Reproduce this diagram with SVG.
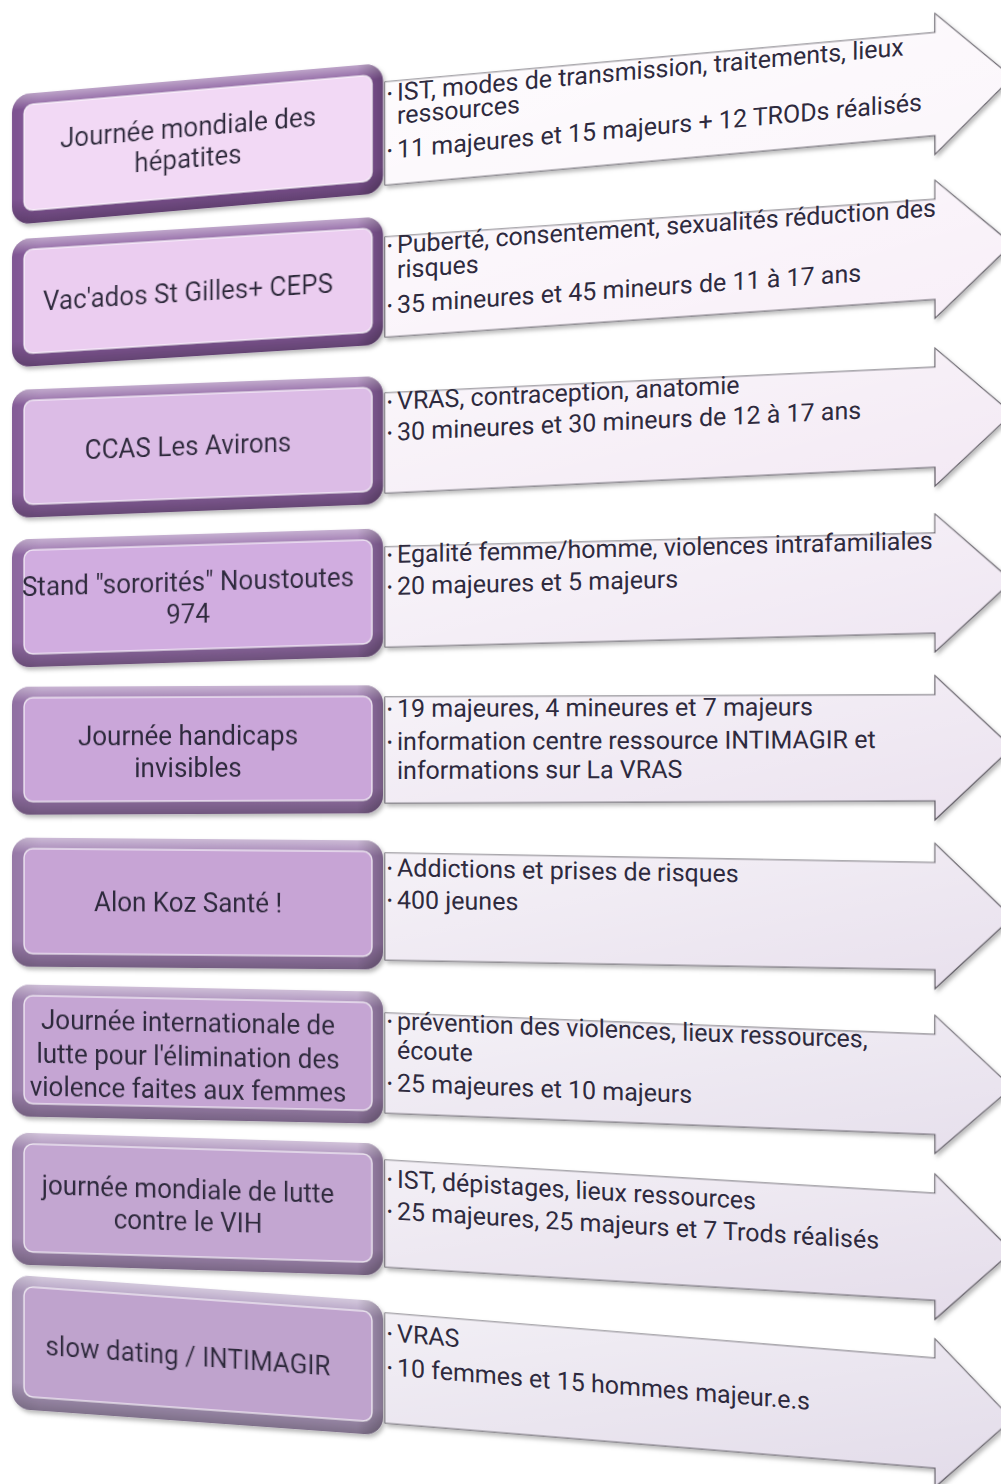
<svg xmlns="http://www.w3.org/2000/svg" width="1001" height="1484" viewBox="0 0 1001 1484">
<defs>
<linearGradient id="bevelV" x1="0" y1="0" x2="0" y2="1">
<stop offset="0" stop-color="#fff" stop-opacity="0.45"/>
<stop offset="0.12" stop-color="#fff" stop-opacity="0"/>
<stop offset="0.8" stop-color="#000" stop-opacity="0"/>
<stop offset="1" stop-color="#000" stop-opacity="0.28"/>
</linearGradient>
<linearGradient id="bevelH" x1="0" y1="0" x2="1" y2="0">
<stop offset="0" stop-color="#000" stop-opacity="0.08"/>
<stop offset="0.08" stop-color="#000" stop-opacity="0"/>
<stop offset="0.93" stop-color="#000" stop-opacity="0"/>
<stop offset="1" stop-color="#000" stop-opacity="0.25"/>
</linearGradient>
<linearGradient id="faceSheen" x1="0" y1="0" x2="1" y2="1">
<stop offset="0" stop-color="#fff" stop-opacity="0.22"/>
<stop offset="1" stop-color="#fff" stop-opacity="0"/>
</linearGradient>
<linearGradient id="arrowSheen" x1="0" y1="0" x2="1" y2="1">
<stop offset="0" stop-color="#fff" stop-opacity="0.6"/>
<stop offset="1" stop-color="#fff" stop-opacity="0"/>
</linearGradient>
<filter id="shadow" x="-5%" y="-10%" width="115%" height="130%">
<feDropShadow dx="2" dy="3" stdDeviation="2" flood-color="#000" flood-opacity="0.28"/>
</filter>
</defs>
<style>
.lbl{font-family:Roboto,"Liberation Sans",sans-serif;font-size:26px;fill:#2e2a3e;text-anchor:middle}
.txt{font-family:Roboto,"Liberation Sans",sans-serif;font-size:25px;fill:#2e2a3e}
.bul{font-family:Roboto,"Liberation Sans",sans-serif;font-size:16px;fill:#2e2a3e}
.arr{stroke:#5b5760;stroke-width:1.2;stroke-linejoin:miter}
.hl{fill:none;stroke:#fff;stroke-opacity:0.7;stroke-width:1.5}
</style>

<!-- Row 1 -->
<g id="box1" transform="matrix(1,-0.086,0,1,0,16.94)" filter="url(#shadow)">
<rect x="12" y="79" width="371" height="130" rx="18" fill="#87599c"/>
<rect x="12" y="79" width="371" height="130" rx="18" fill="url(#bevelV)"/>
<rect x="12" y="79" width="371" height="130" rx="18" fill="url(#bevelH)"/>
<rect x="24" y="90" width="348" height="106" rx="9" fill="#f2d9f5"/>
<rect x="24" y="90" width="348" height="106" rx="9" fill="url(#faceSheen)" class="hl"/>
<text class="lbl" transform="translate(188,136) scale(1,1.08)">Journée mondiale des</text>
<text class="lbl" transform="translate(188,167) scale(1,1.08)">hépatites</text>
</g>
<g id="arrow1" transform="matrix(1,-0.09,0,1,0,34.65)">
<polygon class="arr" filter="url(#shadow)" fill="#fbf6fb" points="385,82 935,82 935,63 1012,133.5 935,204 935,185 385,185"/>
<polygon fill="url(#arrowSheen)" points="385,82 935,82 935,63 1012,133.5 935,204 935,185 385,185"/>
<text class="bul" x="387" y="100">•</text><text class="txt" x="397" y="102">IST, modes de transmission, traitements, lieux</text>
<text class="txt" x="397" y="125">ressources</text>
<text class="bul" x="387" y="157">•</text><text class="txt" x="397" y="159">11 majeures et 15 majeurs + 12 TRODs réalisés</text>
</g>

<!-- Row 2 -->
<g id="box2" transform="matrix(1,-0.062,0,1,0,12.21)" filter="url(#shadow)">
<rect x="12" y="228" width="371" height="128" rx="18" fill="#8a5d9f"/>
<rect x="12" y="228" width="371" height="128" rx="18" fill="url(#bevelV)"/>
<rect x="12" y="228" width="371" height="128" rx="18" fill="url(#bevelH)"/>
<rect x="24" y="239" width="348" height="104" rx="9" fill="#ebcdf0"/>
<rect x="24" y="239" width="348" height="104" rx="9" fill="url(#faceSheen)" class="hl"/>
<text class="lbl" transform="translate(188,301) scale(1,1.08)">Vac'ados St Gilles+ CEPS</text>
</g>
<g id="arrow2" transform="matrix(1,-0.0685,0,1,0,26.37)">
<polygon class="arr" filter="url(#shadow)" fill="#f8eff8" points="385,237 935,237 935,218 1012,287 935,356 935,337 385,337"/>
<polygon fill="url(#arrowSheen)" points="385,237 935,237 935,218 1012,287 935,356 935,337 385,337"/>
<text class="bul" x="387" y="252">•</text><text class="txt" x="397" y="254">Puberté, consentement, sexualités réduction des</text>
<text class="txt" x="397" y="279">risques</text>
<text class="bul" x="387" y="312">•</text><text class="txt" x="397" y="314">35 mineures et 45 mineurs de 11 à 17 ans</text>
</g>

<!-- Row 3 -->
<g id="box3" transform="matrix(1,-0.038,0,1,0,7.49)" filter="url(#shadow)">
<rect x="12" y="383" width="371" height="128" rx="18" fill="#8f64a3"/>
<rect x="12" y="383" width="371" height="128" rx="18" fill="url(#bevelV)"/>
<rect x="12" y="383" width="371" height="128" rx="18" fill="url(#bevelH)"/>
<rect x="24" y="394" width="348" height="104" rx="9" fill="#dcbce6"/>
<rect x="24" y="394" width="348" height="104" rx="9" fill="url(#faceSheen)" class="hl"/>
<text class="lbl" transform="translate(188,455) scale(1,1.08)">CCAS Les Avirons</text>
</g>
<g id="arrow3" transform="matrix(1,-0.047,0,1,0,18.1)">
<polygon class="arr" filter="url(#shadow)" fill="#f3e9f4" points="385,393 935,393 935,374 1012,443 935,512 935,493 385,493"/>
<polygon fill="url(#arrowSheen)" points="385,393 935,393 935,374 1012,443 935,512 935,493 385,493"/>
<text class="bul" x="387" y="408">•</text><text class="txt" x="397" y="410">VRAS, contraception, anatomie</text>
<text class="bul" x="387" y="439">•</text><text class="txt" x="397" y="441">30 mineures et 30 mineurs de 12 à 17 ans</text>
</g>

<!-- Row 4 -->
<g id="box4" transform="matrix(1,-0.03,0,1,0,5.91)" filter="url(#shadow)">
<rect x="12" y="534" width="371" height="128" rx="18" fill="#976fab"/>
<rect x="12" y="534" width="371" height="128" rx="18" fill="url(#bevelV)"/>
<rect x="12" y="534" width="371" height="128" rx="18" fill="url(#bevelH)"/>
<rect x="24" y="545" width="348" height="104" rx="9" fill="#d1ade0"/>
<rect x="24" y="545" width="348" height="104" rx="9" fill="url(#faceSheen)" class="hl"/>
<text class="lbl" transform="translate(188,591) scale(1,1.08)">Stand "sororités" Noustoutes</text>
<text class="lbl" transform="translate(188,623) scale(1,1.08)">974</text>
</g>
<g id="arrow4" transform="matrix(1,-0.0255,0,1,0,9.82)">
<polygon class="arr" filter="url(#shadow)" fill="#efe6f2" points="385,547 935,547 935,528 1012,597 935,666 935,647 385,647"/>
<polygon fill="url(#arrowSheen)" points="385,547 935,547 935,528 1012,597 935,666 935,647 385,647"/>
<text class="bul" x="387" y="561">•</text><text class="txt" x="397" y="563">Egalité femme/homme, violences intrafamiliales</text>
<text class="bul" x="387" y="593">•</text><text class="txt" x="397" y="595">20 majeures et 5 majeurs</text>
</g>

<!-- Row 5 -->
<g id="box5" transform="matrix(1,-0.004,0,1,0,0.79)" filter="url(#shadow)">
<rect x="12" y="686" width="371" height="128" rx="18" fill="#9c78af"/>
<rect x="12" y="686" width="371" height="128" rx="18" fill="url(#bevelV)"/>
<rect x="12" y="686" width="371" height="128" rx="18" fill="url(#bevelH)"/>
<rect x="24" y="697" width="348" height="104" rx="9" fill="#caa6d9"/>
<rect x="24" y="697" width="348" height="104" rx="9" fill="url(#faceSheen)" class="hl"/>
<text class="lbl" transform="translate(188,745) scale(1,1.08)">Journée handicaps</text>
<text class="lbl" transform="translate(188,777) scale(1,1.08)">invisibles</text>
</g>
<g id="arrow5" transform="matrix(1,-0.004,0,1,0,1.54)">
<polygon class="arr" filter="url(#shadow)" fill="#ebe2ef" points="385,697 935,697 935,678 1012,750 935,822 935,803 385,803"/>
<polygon fill="url(#arrowSheen)" points="385,697 935,697 935,678 1012,750 935,822 935,803 385,803"/>
<text class="bul" x="387" y="715">•</text><text class="txt" x="397" y="717">19 majeures, 4 mineures et 7 majeurs</text>
<text class="bul" x="387" y="748">•</text><text class="txt" x="397" y="750">information centre ressource INTIMAGIR et</text>
<text class="txt" x="397" y="779">informations sur La VRAS</text>
</g>

<!-- Row 6 -->
<g id="box6" transform="matrix(1,0.008,0,1,0,-1.58)" filter="url(#shadow)">
<rect x="12" y="839" width="371" height="129" rx="18" fill="#a282b4"/>
<rect x="12" y="839" width="371" height="129" rx="18" fill="url(#bevelV)"/>
<rect x="12" y="839" width="371" height="129" rx="18" fill="url(#bevelH)"/>
<rect x="24" y="850" width="348" height="105" rx="9" fill="#c7a4d5"/>
<rect x="24" y="850" width="348" height="105" rx="9" fill="url(#faceSheen)" class="hl"/>
<text class="lbl" transform="translate(188,912) scale(1,1.08)">Alon Koz Santé !</text>
</g>
<g id="arrow6" transform="matrix(1,0.0175,0,1,0,-6.74)">
<polygon class="arr" filter="url(#shadow)" fill="#e8e0ed" points="385,853 935,853 935,834 1012,906.5 935,979 935,960 385,960"/>
<polygon fill="url(#arrowSheen)" points="385,853 935,853 935,834 1012,906.5 935,979 935,960 385,960"/>
<text class="bul" x="387" y="874">•</text><text class="txt" x="397" y="876">Addictions et prises de risques</text>
<text class="bul" x="387" y="906">•</text><text class="txt" x="397" y="908">400 jeunes</text>
</g>

<!-- Row 7 -->
<g id="box7" transform="matrix(1,0.02,0,1,0,-3.94)" filter="url(#shadow)">
<rect x="12" y="988" width="371" height="132" rx="18" fill="#a689b7"/>
<rect x="12" y="988" width="371" height="132" rx="18" fill="url(#bevelV)"/>
<rect x="12" y="988" width="371" height="132" rx="18" fill="url(#bevelH)"/>
<rect x="24" y="999" width="348" height="108" rx="9" fill="#c5a5d3"/>
<rect x="24" y="999" width="348" height="108" rx="9" fill="url(#faceSheen)" class="hl"/>
<text class="lbl" transform="translate(188,1032) scale(1,1.08)">Journée internationale de</text>
<text class="lbl" transform="translate(188,1066) scale(1,1.08)">lutte pour l'élimination des</text>
<text class="lbl" transform="translate(188,1099) scale(1,1.08)">violence faites aux femmes</text>
</g>
<g id="arrow7" transform="matrix(1,0.039,0,1,0,-15.02)">
<polygon class="arr" filter="url(#shadow)" fill="#e6dfec" points="385,1013 935,1013 935,994 1012,1063 935,1132 935,1113 385,1113"/>
<polygon fill="url(#arrowSheen)" points="385,1013 935,1013 935,994 1012,1063 935,1132 935,1113 385,1113"/>
<text class="bul" x="387" y="1027">•</text><text class="txt" x="397" y="1029">prévention des violences, lieux ressources,</text>
<text class="txt" x="397" y="1058">écoute</text>
<text class="bul" x="387" y="1089">•</text><text class="txt" x="397" y="1091">25 majeures et 10 majeurs</text>
</g>

<!-- Row 8 -->
<g id="box8" transform="matrix(1,0.03,0,1,0,-5.91)" filter="url(#shadow)">
<rect x="12" y="1138" width="371" height="132" rx="18" fill="#aa8fba"/>
<rect x="12" y="1138" width="371" height="132" rx="18" fill="url(#bevelV)"/>
<rect x="12" y="1138" width="371" height="132" rx="18" fill="url(#bevelH)"/>
<rect x="24" y="1149" width="348" height="108" rx="9" fill="#c3a6d1"/>
<rect x="24" y="1149" width="348" height="108" rx="9" fill="url(#faceSheen)" class="hl"/>
<text class="lbl" transform="translate(188,1199) scale(1,1.08)">journée mondiale de lutte</text>
<text class="lbl" transform="translate(188,1231) scale(1,1.08)">contre le VIH</text>
</g>
<g id="arrow8" transform="matrix(1,0.0605,0,1,0,-23.29)">
<polygon class="arr" filter="url(#shadow)" fill="#e4dcea" points="385,1160 935,1160 935,1141 1012,1213.5 935,1286 935,1267 385,1267"/>
<polygon fill="url(#arrowSheen)" points="385,1160 935,1160 935,1141 1012,1213.5 935,1286 935,1267 385,1267"/>
<text class="bul" x="387" y="1185">•</text><text class="txt" x="397" y="1187">IST, dépistages, lieux ressources</text>
<text class="bul" x="387" y="1217">•</text><text class="txt" x="397" y="1219">25 majeures, 25 majeurs et 7 Trods réalisés</text>
</g>

<!-- Row 9 -->
<g id="box9" transform="matrix(1,0.072,0,1,0,-14.18)" filter="url(#shadow)">
<rect x="12" y="1288" width="371" height="134" rx="18" fill="#b09cc0"/>
<rect x="12" y="1288" width="371" height="134" rx="18" fill="url(#bevelV)"/>
<rect x="12" y="1288" width="371" height="134" rx="18" fill="url(#bevelH)"/>
<rect x="24" y="1299" width="348" height="110" rx="9" fill="#bfa3cd"/>
<rect x="24" y="1299" width="348" height="110" rx="9" fill="url(#faceSheen)" class="hl"/>
<text class="lbl" transform="translate(188,1366) scale(1,1.08)">slow dating / INTIMAGIR</text>
</g>
<g id="arrow9" transform="matrix(1,0.082,0,1,0,-31.57)">
<polygon class="arr" filter="url(#shadow)" fill="#e2dbe9" points="385,1313 935,1313 935,1294 1012,1368 935,1442 935,1423 385,1423"/>
<polygon fill="url(#arrowSheen)" points="385,1313 935,1313 935,1294 1012,1368 935,1442 935,1423 385,1423"/>
<text class="bul" x="387" y="1339">•</text><text class="txt" x="397" y="1341">VRAS</text>
<text class="bul" x="387" y="1373">•</text><text class="txt" x="397" y="1375">10 femmes et 15 hommes majeur.e.s</text>
</g>
</svg>
